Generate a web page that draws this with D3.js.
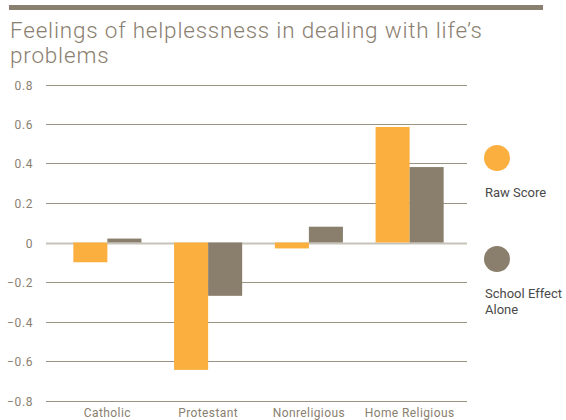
<!DOCTYPE html>
<html><head><meta charset="utf-8">
<script src="https://cdn.jsdelivr.net/npm/d3@7"></script>
<style>body{margin:0;background:#fff}svg{display:block}text{font-family:Roboto,"Open Sans",sans-serif}</style>
</head><body>
<script>
const categories = ["Catholic", "Protestant", "Nonreligious", "Home Religious"];
const seriesNames = ["Raw Score", "School Effect Alone"];
const rawScore = [-0.10, -0.645, -0.03, 0.585];
const schoolEffect = [0.02, -0.27, 0.08, 0.382];
const yTicks = [0.8, 0.6, 0.4, 0.2, 0, -0.2, -0.4, -0.6, -0.8];
const colors = ["#fbaf3f", "#8a7f6d"];

const W = 566, H = 420;
const svg = d3.select("body").append("svg").attr("width", W).attr("height", H);

// top rule
svg.append("rect").attr("x", 9).attr("y", 5).attr("width", 534).attr("height", 5).attr("fill", "#8a8070");

// title
const title = svg.append("text").attr("fill", "#8a8070")
  .style("font-weight", 300).style("font-size", "22.5px");
const l1 = title.append("tspan").attr("x", 10).attr("y", 38).text("Feelings of helplessness in dealing with life\u2019s");
title.append("tspan").attr("x", 10).attr("y", 63).text("problems");
const len = l1.node().getComputedTextLength();
const ls = (472 - len) / 46;
title.style("letter-spacing", ls + "px");

const y = d3.scaleLinear().domain([-0.8, 0.8]).range([400.5, 84.5]);
const x0 = d3.scaleBand().domain(categories).range([57, 460]).padding(0);
const x1 = d3.scaleBand().domain(seriesNames).range([0, x0.bandwidth()]).paddingInner(0).paddingOuter(0.48);

// grid
const grid = svg.append("g");
grid.selectAll("line").data(yTicks).join("line")
  .attr("x1", 46).attr("x2", 467)
  .attr("y1", d => Math.round(y(d)) + 0.5).attr("y2", d => Math.round(y(d)) + 0.5)
  .attr("stroke", d => d === 0 ? "#c8c3ba" : "#9a9282").attr("stroke-width", d => d === 0 ? 2 : 1);

// y labels
svg.append("g").selectAll("text").data(yTicks).join("text")
  .attr("x", 33).attr("y", d => Math.round(y(d)) + 4.5)
  .attr("text-anchor", "end").attr("fill", "#8a8070").style("font-size", "12px")
  .style("letter-spacing", "0.6px")
  .text(d => d === 0 ? "0" : d3.format(".1f")(d));

// bars
const data = categories.map((c, i) => ({c, vals: [rawScore[i], schoolEffect[i]]}));
const g = svg.append("g").selectAll("g").data(data).join("g")
  .attr("transform", d => `translate(${x0(d.c)},0)`);
g.selectAll("rect").data(d => d.vals.map((v, j) => ({v, s: seriesNames[j], j})))
  .join("rect")
  .attr("x", d => x1(d.s)).attr("width", x1.bandwidth())
  .attr("y", d => y(Math.max(0, d.v))).attr("height", d => Math.abs(y(d.v) - y(0)))
  .attr("fill", d => colors[d.j]);

// x labels
svg.append("g").selectAll("text").data(categories).join("text")
  .attr("x", d => x0(d) + x0.bandwidth() / 2).attr("y", 417)
  .attr("text-anchor", "middle").attr("fill", "#8a8070").style("font-size", "12px")
  .style("letter-spacing", "0.4px")
  .text(d => d);

// legend
const leg = svg.append("g");
const legY = [158, 259];
leg.selectAll("circle").data(seriesNames).join("circle")
  .attr("cx", 497).attr("cy", (d, i) => legY[i]).attr("r", 13).attr("fill", (d, i) => colors[i]);
const lt = leg.selectAll("text").data(seriesNames).join("text")
  .attr("x", 485).attr("y", (d, i) => legY[i] + 39).attr("fill", "#4a4a4a").style("font-size", "13px");
lt.each(function(d, i) {
  const el = d3.select(this);
  if (i === 0) el.text(d);
  else {
    el.append("tspan").attr("x", 485).text("School Effect");
    el.append("tspan").attr("x", 485).attr("dy", 16).text("Alone");
  }
});
</script>
</body></html>
